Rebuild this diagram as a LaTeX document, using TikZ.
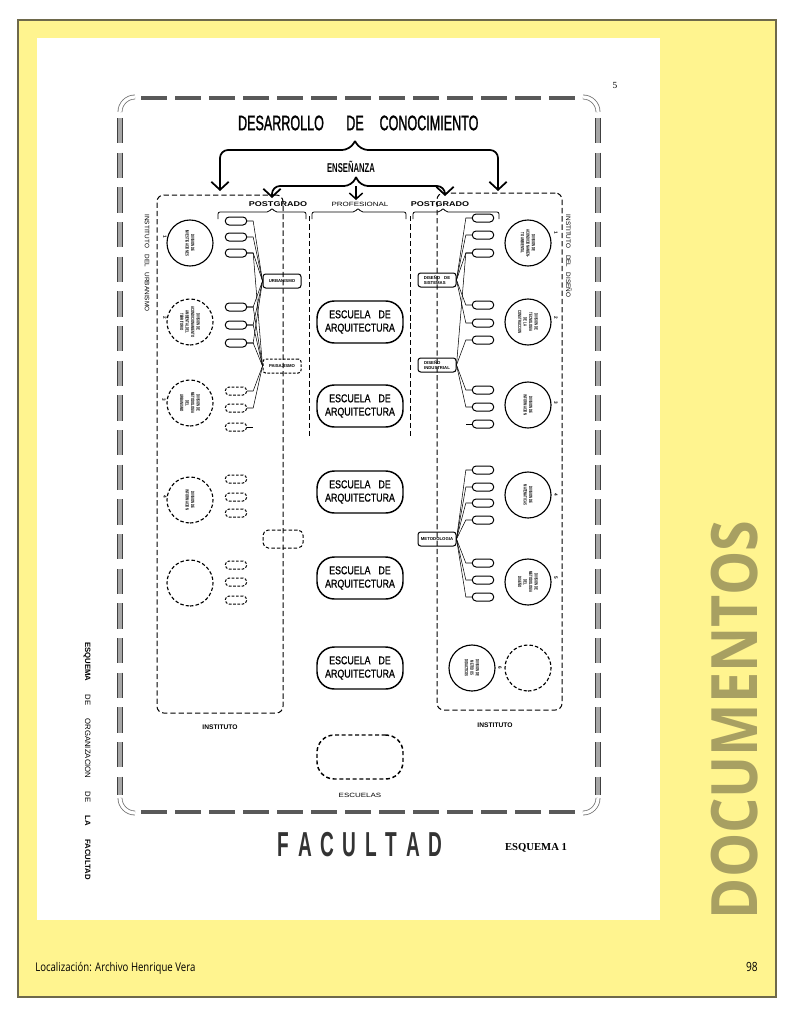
\documentclass[tikz,border=0pt]{standalone}
\usepackage{fontspec}
\usepackage{graphicx}
\setmainfont{Liberation Sans}
\newfontfamily\cond[FakeStretch=0.6]{Liberation Sans}
\newfontfamily\titf[FakeStretch=0.6,FakeBold=1.2]{Liberation Sans}
\newfontfamily\escf[FakeStretch=0.78,FakeBold=0.8]{Liberation Sans}
\newfontfamily\widef[FakeStretch=1.3]{Liberation Sans}
\newfontfamily\facf[FakeStretch=0.55]{Liberation Sans}
\newfontfamily\docf[FakeStretch=0.87]{Open Sans}
\newfontfamily\footf[FakeStretch=0.8]{Open Sans}
\newfontfamily\serifb{Liberation Serif}
\usetikzlibrary{arrows.meta}
\definecolor{pageyellow}{RGB}{255,244,143}
\definecolor{docolive}{RGB}{168,160,98}
\definecolor{pageborder}{RGB}{110,105,75}
\newcommand\circfont{\cond\bfseries\fontsize{3.5}{4.1}\selectfont}
\newcommand\hubfont{\bfseries\fontsize{3.2}{3.8}\selectfont}
\tikzset{
 framedash/.style={line width=3.6pt, draw=black!65, dash pattern=on 19.5pt off 6pt},
 frameside/.style={line width=0.8pt, draw=black!75, double=black!35, double distance=2.4pt, dash pattern=on 19pt off 7pt},
 framecorner/.style={line width=0.6pt, draw=black!55, double=white, double distance=2.4pt},
 instbox/.style={draw, dash pattern=on 4pt off 2.2pt, line width=0.75pt, rounded corners=5pt, inner sep=0},
 dline/.style={dash pattern=on 4pt off 2.2pt, line width=0.75pt},
 circ/.style={circle, draw, line width=0.85pt, minimum size=34.5pt, inner sep=0, align=center, font=\circfont, rotate=-90},
 circd/.style={circ, dash pattern=on 2.6pt off 1.6pt},
 sbox/.style={draw, line width=0.75pt, rounded corners=2.8pt, minimum width=16pt, minimum height=6pt, inner sep=0},
 sboxd/.style={sbox, dash pattern=on 2pt off 1.2pt},
 hub/.style={draw, line width=0.75pt, rounded corners=2pt, minimum width=28.5pt, minimum height=10.5pt, inner sep=1pt, font=\hubfont, align=left},
 hubd/.style={hub, dash pattern=on 2pt off 1.2pt},
 escuela/.style={draw, line width=1.1pt, rounded corners=13pt, minimum width=64.5pt, minimum height=31.5pt, inner sep=0, align=center, font=\escf\fontsize{8.5}{10}\selectfont},
 conn/.style={line width=0.4pt},
 bracket/.style={line width=0.6pt, rounded corners=1.5pt},
 brace/.style={line width=1.3pt, rounded corners=6pt},
 bigarrow/.style={brace, -{Straight Barb[length=6pt,width=13pt,line width=1.3pt]}},
 midarrow/.style={line width=1.1pt, -{Straight Barb[length=4.5pt,width=10pt,line width=1.1pt]}},
 lbl/.style={inner sep=0},
 nummark/.style={inner sep=0, rotate=-90, font=\bfseries\fontsize{3.5}{4}\selectfont},
}
\begin{document}
\begin{tikzpicture}[x=0.75pt,y=-0.75pt]
\useasboundingbox (0,0) rectangle (792,1020);
\fill[white] (0,0) rectangle (792,1020);
\draw[fill=pageyellow, draw=pageborder, line width=0.8pt] (18,20) rectangle (776,997);
\fill[white] (37,38) rectangle (660,920);

% outer frame
\draw[framedash] (141,98) -- (578,98);
\draw[framedash] (141,812) -- (578,812);
\draw[frameside] (120,118) -- (120,795);
\draw[frameside] (598,118) -- (598,795);
\draw[framecorner] (120,112) arc[start angle=180, end angle=270, radius=15];
\draw[framecorner] (583,97) arc[start angle=270, end angle=360, radius=15];
\draw[framecorner] (120,798) arc[start angle=180, end angle=90, radius=15];
\draw[framecorner] (598,798) arc[start angle=0, end angle=90, radius=15];
\node[lbl, font=\serifb\fontsize{7}{8}\selectfont] (pnum) at (615,85) {5};

% title
\node[lbl, font=\titf\fontsize{15.7}{16}\selectfont] (tA) at (281,123) {DESARROLLO};
\node[lbl, font=\titf\fontsize{15.7}{16}\selectfont] (tB) at (355,123) {DE};
\node[lbl, font=\titf\fontsize{15.7}{16}\selectfont] (tC) at (429,123) {CONOCIMIENTO};
\node[lbl, font=\cond\bfseries\fontsize{9.6}{10}\selectfont] (ens) at (351,167) {ENSEÑANZA};

% institute boxes
\node[instbox, minimum width=94.5pt, minimum height=388.5pt] (instL) at (220,454) {};
\node[instbox, minimum width=93.75pt, minimum height=387.75pt] (instR) at (499.5,451.5) {};

% big brace
\coordinate (b1tip) at (355,141);
\coordinate (b1L) at (220,191);
\coordinate (b1R) at (498,191);
\draw[bigarrow] (b1tip) -- (350,150) -- (220,150) -- (b1L);
\draw[bigarrow] (b1tip) -- (360,150) -- (498,150) -- (b1R);
% second brace
\coordinate (b2tip) at (356,177);
\coordinate (b2L) at (272,198);
\coordinate (b2R) at (445,196);
\coordinate (b2M) at (356,200);
\coordinate (b2Mtop) at (356,186);
\draw[bigarrow] (b2tip) -- (352,186) -- (272,186) -- (b2L);
\draw[bigarrow] (b2tip) -- (360,186) -- (445,186) -- (b2R);
\draw[midarrow] (b2Mtop) -- (b2M);

% column labels
\node[lbl, font=\widef\bfseries\fontsize{5.2}{6}\selectfont] (postL) at (278,204) {POSTGRADO};
\node[lbl, font=\widef\fontsize{4.6}{5}\selectfont] (prof) at (360,204) {PROFESIONAL};
\node[lbl, font=\widef\bfseries\fontsize{5.2}{6}\selectfont] (postR) at (440,204) {POSTGRADO};
\draw[bracket] (218,219) -- (218,212) -- (269,212) -- (272,208) -- (275,212) -- (306,212) -- (306,219);
\draw[bracket] (312,219) -- (312,212) -- (355,212) -- (358,208) -- (361,212) -- (406,212) -- (406,219);
\draw[bracket] (413,219) -- (413,212) -- (440,212) -- (443,208) -- (446,212) -- (499,212) -- (499,219);
\draw[dline] (309,216) -- (309,436);
\draw[dline] (410,216) -- (410,436);

% side labels
\node[lbl, rotate=-90, font=\fontsize{4.8}{6}\selectfont] (instUrb) at (147,263) {INSTITUTO\hspace{5pt}DEL\hspace{4pt}URBANISMO};
\node[lbl, rotate=-90, font=\fontsize{4.8}{6}\selectfont] (instDis) at (569,256) {INSTITUTO\hspace{5pt}DEL\hspace{4pt}DISEÑO};
\node[lbl, font=\bfseries\fontsize{5}{6}\selectfont] (instLlbl) at (220,727) {INSTITUTO};
\node[lbl, font=\bfseries\fontsize{5}{6}\selectfont] (instRlbl) at (495,725) {INSTITUTO};

% left circles
\node[circ] (L1) at (190,243) {DIVISION DE\\INVESTIGACIONES};
\node[circd] (L2) at (190,322) {DIVISION DE\\ACONDICIONAMIENTO\\AMBIENTAL DEL\\TERRITORIO};
\node[circd] (L3) at (190,403) {DIVISION DE\\METODOLOGIA\\DEL\\URBANISMO};
\node[circd] (L4) at (190,500) {DIVISION DE\\INFORMACION};
\node[circd] (L5) at (190,583) {};
\node[nummark] (mL1) at (165,237) {1};
\node[nummark] (mL2) at (165,318) {2};
\node[nummark] (mL3) at (164,400) {3};
\node[nummark] (mL4) at (165,497) {4};

% right circles
\node[circ] (R1) at (528,243) {DIVISION DE\\ACONDICIONAMIEN-\\TO AMBIENTAL};
\node[circ] (R2) at (528,322) {DIVISION DE\\TECNOLOGIA\\DE LA\\CONSTRUCCION};
\node[circ] (R3) at (528,405) {DIVISION DE\\INFORMACION};
\node[circ] (R4) at (528,495) {DIVISION DE\\MATEMATICAS};
\node[circ] (R5) at (528,582) {DIVISION DE\\METODOLOGIA\\DEL\\DISEÑO};
\node[circ] (R6) at (472,668) {DIVISION DE\\METODOS\\DIDACTICOS};
\node[circd] (R7) at (528,668) {};
\node[nummark] (mR1) at (556,233) {1};
\node[nummark] (mR2) at (556,318) {2};
\node[nummark] (mR3) at (556,403) {3};
\node[nummark] (mR4) at (556,495) {4};
\node[nummark] (mR5) at (556,578) {5};
\node[nummark] (mR6) at (500,668) {6};

% left small boxes
\foreach \i/\y in {1/221,2/237,3/253,4/307,5/325,6/343}
  \node[sbox] (lb\i) at (236,\y) {};
\foreach \i/\y in {7/391,8/408,9/427,10/479,11/497,12/513,13/565,14/582,15/600}
  \node[sboxd] (lb\i) at (236,\y) {};
% right small boxes
\foreach \i/\y in {1/218,2/235,3/253,4/305,5/323,6/340,7/390,8/407,9/424,10/470,11/487,12/503,13/520,14/563,15/580,16/597}
  \node[sbox] (rb\i) at (483,\y) {};

% hubs
\node[hub] (urb) at (282,281) {URBANISMO};
\node[hubd] (pai) at (282,366) {PAISAJISMO};
\node[hub] (sis) at (437,280) {DISEÑO\hspace{3pt}DE\\SISTEMAS};
\node[hub] (ind) at (437,365) {DISEÑO\\INDUSTRIAL};
\node[hub] (met) at (437,539) {METODOLOGIA};
\node[draw, dash pattern=on 2.6pt off 1.6pt, line width=0.75pt, rounded corners=4pt, minimum width=30pt, minimum height=13.5pt] (lbx) at (283,539) {};

% connectors left
\foreach \i in {1,...,6} \draw[conn] (lb\i.east) -- ++(6,0) -- (urb.west);
\foreach \i in {3,...,8} \draw[conn] (lb\i.east) -- ++(6,0) -- (pai.west);
\draw[conn] (lb9.east) -- ++(6,0);
% connectors right
\foreach \i in {1,...,5} \draw[conn] (rb\i.west) -- ++(-6,0) -- (sis.east);
\foreach \i in {3,6,7,8} \draw[conn] (rb\i.west) -- ++(-6,0) -- (ind.east);
\draw[conn] (rb9.west) -- ++(-6,0);
\foreach \i in {10,...,16} \draw[conn] (rb\i.west) -- ++(-6,0) -- (met.east);

% escuelas
\node[escuela] (e1) at (360,322) {ESCUELA\hspace{6pt}DE\\ARQUITECTURA};
\node[escuela] (e2) at (360,406) {ESCUELA\hspace{6pt}DE\\ARQUITECTURA};
\node[escuela] (e3) at (360,492) {ESCUELA\hspace{6pt}DE\\ARQUITECTURA};
\node[escuela] (e4) at (360,578) {ESCUELA\hspace{6pt}DE\\ARQUITECTURA};
\node[escuela] (e5) at (360,668) {ESCUELA\hspace{6pt}DE\\ARQUITECTURA};
\node[escuela, dash pattern=on 3pt off 2pt, minimum height=33pt] (esc) at (360,757) {};
\node[lbl, font=\widef\fontsize{4.6}{5}\selectfont] (esclbl) at (360,795) {ESCUELAS};

% bottom texts
\node[lbl, text=black!80, font=\facf\bfseries\fontsize{26}{27}\selectfont] (fac) at (360,845) {F\hspace{6.5pt}A\hspace{6.5pt}C\hspace{6.5pt}U\hspace{6.5pt}L\hspace{6.5pt}T\hspace{6.5pt}A\hspace{6.5pt}D};
\node[lbl, font=\serifb\bfseries\fontsize{8}{9}\selectfont] (esq1) at (536,848) {ESQUEMA 1};
\node[lbl, rotate=-90, font=\fontsize{5.8}{6}\selectfont] (esqv) at (87,761) {\textbf{ESQUEMA}\hspace{10pt}DE\hspace{10pt}ORGANIZACION\hspace{10pt}DE\hspace{10pt}\textbf{LA}\hspace{10pt}\textbf{FACULTAD}};

% page texts
\node[lbl, rotate=90, text=docolive, font=\docf\bfseries\fontsize{48}{50}\selectfont] (doc) at (735,720) {DOCUMENTOS};
\node[lbl, anchor=west, font=\footf\fontsize{9}{10}\selectfont] (foot) at (35,968) {Localización: Archivo Henrique Vera};
\node[lbl, anchor=east, font=\footf\fontsize{9.5}{10}\selectfont] (pg) at (758,967) {98};
\end{tikzpicture}
\end{document}
